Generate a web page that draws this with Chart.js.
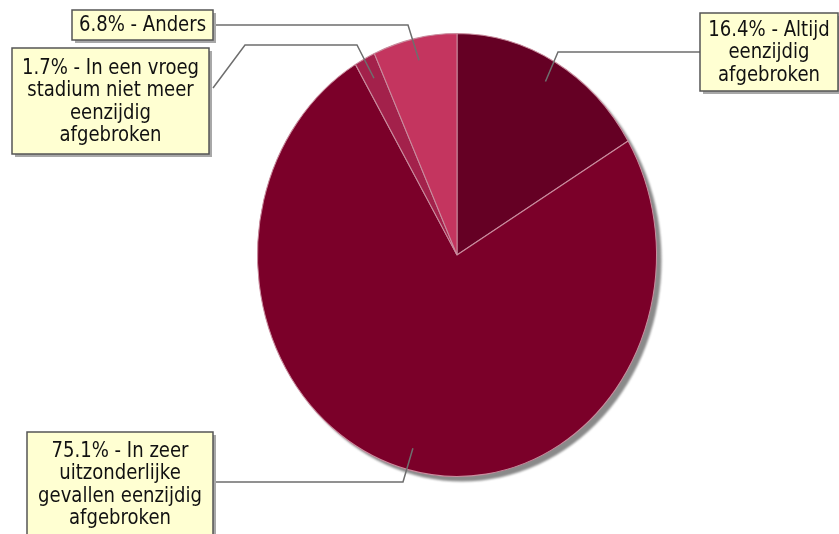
<!DOCTYPE html>
<html>
<head>
<meta charset="utf-8">
<script src="https://cdn.jsdelivr.net/npm/chart.js@4.4.1/dist/chart.umd.min.js"></script>
<style>
  html, body { margin: 0; padding: 0; background: #fff; }
  #wrap { width: 839px; height: 534px; position: relative; }
</style>
</head>
<body>
<div id="wrap"><canvas id="grafiek"></canvas></div>
<script>
// data
const categorieen = [
    ["16.4% - Altijd", "eenzijdig", "afgebroken"],
    ["75.1% - In zeer", "uitzonderlijke", "gevallen eenzijdig", "afgebroken"],
    ["1.7% - In een vroeg", "stadium niet meer", "eenzijdig", "afgebroken"],
    ["6.8% - Anders"]
];
const waarden = [16.4, 75.1, 1.7, 6.8];
const kleuren = ["#650024", "#7b0029", "#a3214b", "#c4355f"];

// label boxes + leader knees (layout only)
const labelBoxen = [
    { x: 700, y: 13, w: 138, h: 78, lijn: [[558, 52], [700, 52]] },
    { x: 27, y: 432, w: 186, h: 104, lijn: [[403, 482], [213, 482]] },
    { x: 12, y: 48, w: 197, h: 106, lijn: [[357, 45], [245, 45], [213, 88]] },
    { x: 72, y: 10, w: 141, h: 30, lijn: [[408, 25], [213, 25]] }
];

const SCHAAL_Y = 1.11;

const ellipsPlugin = {
    id: "ellips",
    beforeDatasetsDraw(chart) {
        const arc = chart.getDatasetMeta(0).data[0];
        const ctx = chart.ctx;
        const cx = arc.x, cy = arc.y, r = arc.outerRadius;
        ctx.save();
        // schaduw
        ctx.save();
        ctx.fillStyle = "#8a8a8a";
        ctx.filter = "blur(1px)";
        ctx.beginPath();
        ctx.ellipse(cx + 5, cy + 5, r, r * SCHAAL_Y, 0, 0, Math.PI * 2);
        ctx.fill();
        ctx.restore();
        ctx.translate(cx, cy);
        ctx.scale(1, SCHAAL_Y);
        ctx.translate(-cx, -cy);
    },
    afterDatasetsDraw(chart) {
        chart.ctx.restore();
    }
};

const labelPlugin = {
    id: "labels",
    afterDraw(chart) {
        const ctx = chart.ctx;
        const meta = chart.getDatasetMeta(0);
        meta.data.forEach((arc, i) => {
            const b = labelBoxen[i];
            const mid = (arc.startAngle + arc.endAngle) / 2;
            const ax = arc.x + Math.cos(mid) * arc.outerRadius * 0.9;
            const ay = arc.y + Math.sin(mid) * arc.outerRadius * 0.9 * SCHAAL_Y;

            // lijn
            ctx.save();
            ctx.strokeStyle = "#6e6e6e";
            ctx.lineWidth = 1.5;
            ctx.beginPath();
            ctx.moveTo(ax, ay);
            b.lijn.forEach(p => ctx.lineTo(p[0], p[1]));
            ctx.stroke();

            // box met schaduw
            ctx.fillStyle = "#a8a8a8";
            ctx.fillRect(b.x + 3, b.y + 3, b.w, b.h);
            ctx.fillStyle = "#ffffd2";
            ctx.fillRect(b.x, b.y, b.w, b.h);
            ctx.strokeStyle = "#555";
            ctx.lineWidth = 1.5;
            ctx.strokeRect(b.x, b.y, b.w, b.h);

            // tekst (smal, zoals het origineel)
            const regels = categorieen[i];
            ctx.fillStyle = "#111";
            ctx.font = "21px 'DejaVu Sans'";
            ctx.textAlign = "center";
            ctx.textBaseline = "middle";
            const lh = 22.5;
            const y0 = b.y + b.h / 2 - (regels.length - 1) * lh / 2 + 1;
            regels.forEach((t, j) => {
                ctx.save();
                ctx.translate(b.x + b.w / 2, y0 + j * lh);
                ctx.scale(0.86, 1);
                ctx.fillText(t, 0, 0, (b.w - 6) / 0.86);
                ctx.restore();
            });
            ctx.restore();
        });
    }
};

const ctx = document.getElementById("grafiek").getContext("2d");
new Chart(ctx, {
    type: "pie",
    data: {
        labels: categorieen,
        datasets: [{
            data: waarden,
            backgroundColor: kleuren,
            borderColor: "#c98c9e",
            borderWidth: 1,
            clip: false
        }]
    },
    options: {
        responsive: true,
        maintainAspectRatio: false,
        animation: false,
        layout: {
            padding: { left: 257, right: 182, top: 55, bottom: 79 }
        },
        plugins: {
            legend: { display: false },
            tooltip: { enabled: false }
        }
    },
    plugins: [ellipsPlugin, labelPlugin]
});
</script>
</body>
</html>
